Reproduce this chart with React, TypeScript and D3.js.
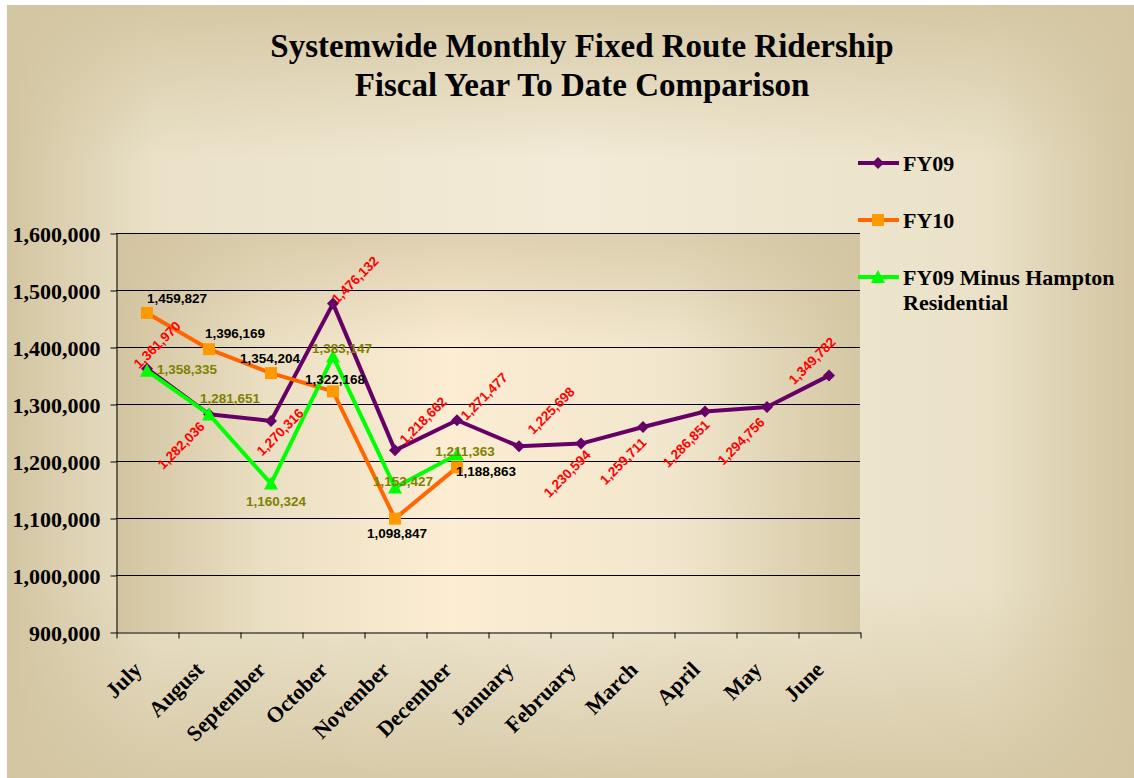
import { useEffect, useRef } from "react";
import * as d3 from "d3";

const months = ["July", "August", "September", "October", "November", "December",
    "January", "February", "March", "April", "May", "June"];
const fy09 = [1361970, 1282036, 1270316, 1476132, 1218662, 1271477,
    1225698, 1230594, 1259711, 1286851, 1294756, 1349782];
const fy10 = [1459827, 1396169, 1354204, 1322168, 1098847, 1188863];
const fy09MinusHampton = [1358335, 1281651, 1160324, 1383147, 1153427, 1211363];
const yTicks = [900000, 1000000, 1100000, 1200000, 1300000, 1400000, 1500000, 1600000];
const titleLines = ["Systemwide Monthly Fixed Route Ridership", "Fiscal Year To Date Comparison"];
const seriesNames = ["FY09", "FY10", "FY09 Minus Hampton|Residential"];

// where each data label sits relative to its point (dx, dy)
const fy09LabelOffsets = [[10, -24], [-28, 31], [9, 11], [22, -24], [28, -30], [27, -24],
    [32, -36], [-14, 30], [-20, 34], [-19, 32], [-26, 34], [-17, -15]];
const fy10LabelOffsets = [[30, -15], [26, -16], [-1, -15], [2, -12], [2, 14], [29, 4]];
const greenLabelOffsets = [[40, -2], [21, -16], [5, 18], [9, -8], [8, -6], [8, -3]];

const W = 1134, H = 778;
const left = 116, right = 860, top = 233, bottom = 632;
const serif = "'Liberation Serif', 'Times New Roman', serif";
const sans = "'Liberation Sans', Arial, sans-serif";

export default function App() {
    const ref = useRef<SVGSVGElement>(null);

    useEffect(() => {
        const svg = d3.select(ref.current);
        svg.selectAll("*").remove();

        const defs = svg.append("defs");
        const lin = (id: string, x2: number, y2: number, stops: [number, string, number][]) => {
            const g = defs.append("linearGradient").attr("id", id)
                .attr("x1", 0).attr("y1", 0).attr("x2", x2).attr("y2", y2);
            stops.forEach(([o, c, a]) => g.append("stop").attr("offset", o)
                .attr("stop-color", c).attr("stop-opacity", a));
        };
        lin("bgH", 1, 0, [[0, "#d3c5a1", 1], [0.13, "#eae1c8", 1], [0.5, "#f3ebd7", 1], [0.87, "#eae1c8", 1], [1, "#d3c5a1", 1]]);
        lin("bgV", 0, 1, [[0, "#d3c5a1", 0.9], [0.2, "#d3c5a1", 0], [0.75, "#d3c5a1", 0], [1, "#d3c5a1", 0.85]]);
        lin("plotH", 1, 0, [[0, "#d2c4a0", 1], [0.2, "#ebdfc3", 1], [0.45, "#fcedd3", 1], [0.75, "#f1e6cd", 1], [1, "#d4c7a3", 1]]);
        lin("plotV", 0, 1, [[0, "#d2c4a0", 0.7], [0.3, "#d2c4a0", 0], [1, "#d2c4a0", 0]]);

        // backgrounds
        svg.append("rect").attr("x", 7).attr("y", 5).attr("width", W - 7).attr("height", H - 5).attr("fill", "url(#bgH)");
        svg.append("rect").attr("x", 7).attr("y", 5).attr("width", W - 7).attr("height", H - 5).attr("fill", "url(#bgV)");
        svg.append("rect").attr("x", left).attr("y", top).attr("width", right - left).attr("height", bottom - top).attr("fill", "url(#plotH)");
        svg.append("rect").attr("x", left).attr("y", top).attr("width", right - left).attr("height", bottom - top).attr("fill", "url(#plotV)");

        const x = d3.scaleBand().domain(months).range([left, right]).padding(0);
        const cx = (i: number) => (x(months[i]) as number) + x.bandwidth() / 2;
        const y = d3.scaleLinear().domain([900000, 1600000]).range([bottom, top]);

        // gridlines
        svg.append("g").selectAll("line").data(yTicks.slice(1)).enter().append("line")
            .attr("x1", left).attr("x2", right)
            .attr("y1", d => Math.round(y(d)) + 0.5).attr("y2", d => Math.round(y(d)) + 0.5)
            .attr("stroke", "#000").attr("stroke-width", 1);

        // y axis
        const yAxis = svg.append("g").attr("transform", `translate(${left + 0.5},0.5)`)
            .call(d3.axisLeft(y).tickValues(yTicks).tickFormat(d3.format(",") as any)
                .tickSize(6).tickSizeOuter(0).tickPadding(10));
        yAxis.selectAll("text").attr("font-family", serif).attr("font-weight", "bold")
            .attr("font-size", 22).attr("fill", "#000").attr("dy", "0.36em");
        yAxis.selectAll("line,path").attr("stroke", "#000");

        // x axis, ticks at category boundaries
        const xb = d3.scaleLinear().domain([0, months.length]).range([left, right]);
        const xAxis = svg.append("g").attr("transform", `translate(0.5,${bottom + 0.5})`)
            .call(d3.axisBottom(xb).tickValues(d3.range(months.length + 1)).tickFormat(() => "")
                .tickSize(6).tickSizeOuter(0));
        xAxis.selectAll("line,path").attr("stroke", "#000");

        svg.append("g").selectAll("text").data(months).enter().append("text")
            .attr("transform", (d, i) => `translate(${cx(i) - 4},${671}) rotate(-45)`)
            .attr("text-anchor", "end")
            .attr("font-family", serif).attr("font-weight", "bold").attr("font-size", 22)
            .text(d => d);

        // series
        const line = d3.line<number>().x((d, i) => cx(i)).y(d => y(d));
        const diamond = "M0,-6L6,0L0,6L-6,0Z";
        const square = "M-6,-6H6V6H-6Z";
        const triangle = "M0,-7L7,6H-7Z";

        const series = [
            { values: fy09, stroke: "#660066", fill: "#660066", marker: diamond },
            { values: fy10, stroke: "#ff6600", fill: "#ff9900", marker: square },
            { values: fy09MinusHampton, stroke: "#00ff00", fill: "#00ff00", marker: triangle },
        ];
        series.forEach(s => {
            svg.append("path").datum(s.values)
                .attr("fill", "none").attr("stroke", s.stroke).attr("stroke-width", 4)
                .attr("stroke-linejoin", "round").attr("d", line);
            svg.append("g").selectAll("path").data(s.values).enter().append("path")
                .attr("transform", (d, i) => `translate(${cx(i)},${y(d)})`)
                .attr("d", s.marker).attr("fill", s.fill);
        });

        // data labels
        const fmt = d3.format(",");
        const labels = [
            { values: fy09, offs: fy09LabelOffsets, color: "#ff0000", rot: -45 },
            { values: fy10, offs: fy10LabelOffsets, color: "#000000", rot: 0 },
            { values: fy09MinusHampton, offs: greenLabelOffsets, color: "#808000", rot: 0 },
        ];
        labels.forEach(l => {
            svg.append("g").selectAll("text").data(l.values).enter().append("text")
                .attr("transform", (d, i) => `translate(${cx(i) + l.offs[i][0]},${y(d) + l.offs[i][1]}) rotate(${l.rot})`)
                .attr("text-anchor", "middle").attr("dy", "0.36em")
                .attr("font-family", sans).attr("font-weight", "bold").attr("font-size", 13.5)
                .attr("fill", l.color)
                .text(d => fmt(d));
        });

        // title
        svg.append("g").selectAll("text").data(titleLines).enter().append("text")
            .attr("x", 582).attr("y", (d, i) => 57 + i * 39)
            .attr("text-anchor", "middle")
            .attr("font-family", serif).attr("font-weight", "bold").attr("font-size", 33)
            .text(d => d);

        // legend
        const legendY = [163, 220, 277];
        const leg = svg.append("g");
        series.forEach((s, i) => {
            leg.append("line").attr("x1", 858).attr("x2", 899)
                .attr("y1", legendY[i]).attr("y2", legendY[i])
                .attr("stroke", s.stroke).attr("stroke-width", 4);
            leg.append("path").attr("transform", `translate(878,${legendY[i]})`)
                .attr("d", s.marker).attr("fill", s.fill);
            const t = leg.append("text").attr("x", 903).attr("y", legendY[i] + 8)
                .attr("font-family", serif).attr("font-weight", "bold").attr("font-size", 22);
            seriesNames[i].split("|").forEach((part, j) => {
                t.append("tspan").attr("x", 903).attr("dy", j === 0 ? 0 : 25).text(part);
            });
        });
    }, []);

    return (
        <svg ref={ref} width={W} height={H}
            style={{ position: "absolute", left: 0, top: 0, background: "#fff" }}></svg>
    );
}
